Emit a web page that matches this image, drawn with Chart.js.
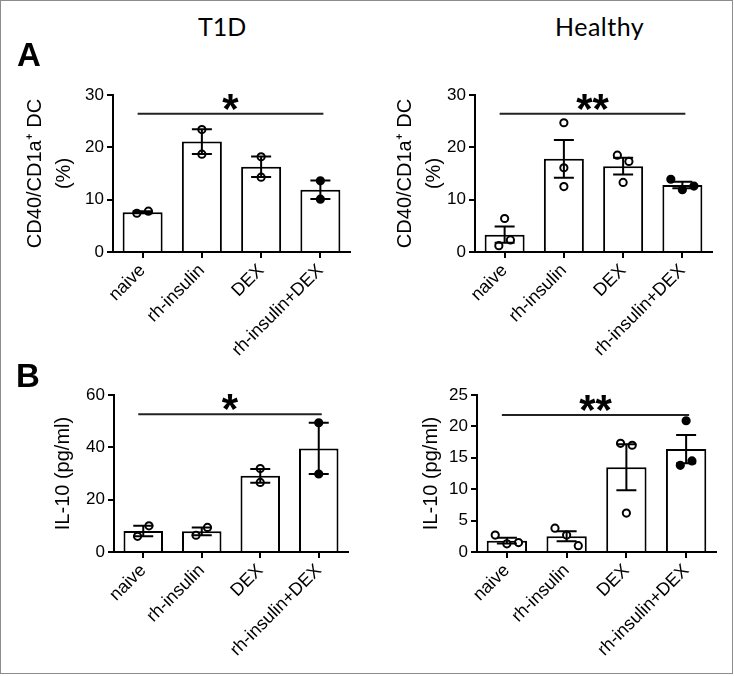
<!DOCTYPE html>
<html>
<head>
<meta charset="utf-8">
<script src="https://cdn.jsdelivr.net/npm/chart.js@4.4.1/dist/chart.umd.min.js"></script>
<style>
  body { margin: 0; background: #fff; }
  #frame { position: absolute; left: 0; top: 0; width: 733px; height: 674px; border: 1px solid #8c8c8c; box-sizing: border-box; }
  canvas { position: absolute; }
  .lbl { position: absolute; color: #000; line-height: 1; white-space: nowrap; }
  .col { font-family: Lato, sans-serif; font-size: 25px; }
  .panel { font-family: "Liberation Sans", Arial, sans-serif; font-weight: bold; font-size: 33px; }
</style>
</head>
<body>
<div id="frame"></div>
<canvas id="aT1d" width="366" height="305" style="left:0;top:60px"></canvas>
<canvas id="aHealthy" width="368" height="305" style="left:366px;top:60px"></canvas>
<canvas id="bT1d" width="366" height="310" style="left:0;top:360px"></canvas>
<canvas id="bHealthy" width="368" height="310" style="left:366px;top:360px"></canvas>
<div class="lbl col" style="left:198px;top:14px">T1D</div>
<div class="lbl col" style="left:555px;top:14px;letter-spacing:0.5px">Healthy</div>
<div class="lbl panel" style="left:17px;top:38px">A</div>
<div class="lbl panel" style="left:16px;top:359px">B</div>
<script>
const categories = ['naive', 'rh-insulin', 'DEX', 'rh-insulin+DEX'];

// A: CD40/CD1a+ DC (%)
const t1dCd40Points = [[7.4, 7.8], [23.4, 18.7], [18.2, 14.3], [13.6, 10.1]];
const t1dCd40Mean = [7.6, 21.1, 16.3, 11.9];
const t1dCd40Sem = [0.2, 2.35, 1.95, 1.75];

const healthyCd40Points = [[6.4, 1.2, 2.3], [24.7, 16.1, 12.5], [18.5, 17.3, 13.3], [13.9, 11.9, 12.6]];
const healthyCd40Mean = [3.3, 17.8, 16.4, 12.8];
const healthyCd40Sem = [1.55, 3.6, 1.6, 0.6];

// B: IL-10 (pg/ml)
const t1dIl10Points = [[6.0, 10.0], [6.4, 9.4], [31.9, 26.6], [49.4, 29.8]];
const t1dIl10Mean = [8.0, 7.9, 29.1, 39.6];
const t1dIl10Sem = [2.0, 1.5, 2.6, 9.8];

const healthyIl10Points = [[2.7, 1.3, 1.5], [3.8, 2.7, 1.0], [17.3, 17.0, 6.2], [20.9, 13.8, 14.5]];
const healthyIl10Mean = [1.8, 2.5, 13.5, 16.4];
const healthyIl10Sem = [0.45, 0.8, 3.65, 2.25];

// y tick labels
const cd40Ticks = [0, 10, 20, 30];
const t1dIl10Ticks = [0, 20, 40, 60];
const healthyIl10Ticks = [0, 5, 10, 15, 20, 25];

// significance bar (naive vs rh-insulin+DEX)
const sigLevels = [26.4, 26.4, 52.6, 21.8];
const sigMarks = ['*', '**', '*', '**'];

const FONT = '"Liberation Sans", Arial, sans-serif';
const PLOT_H = 157;

// spread points that would overlap, like a scatter dot plot
function jitter(vals, thr, step) {
  const idx = vals.map((v, i) => i).sort((a, b) => vals[b] - vals[a]);
  const groups = [];
  let cur = [idx[0]];
  for (let k = 1; k < idx.length; k++) {
    if (vals[cur[cur.length - 1]] - vals[idx[k]] < thr) cur.push(idx[k]);
    else { groups.push(cur); cur = [idx[k]]; }
  }
  groups.push(cur);
  const off = new Array(vals.length).fill(0);
  groups.forEach(g => {
    g.sort((a, b) => a - b);
    g.forEach((i, j) => { off[i] = (j - (g.length - 1) / 2) * step; });
  });
  return off;
}

const errBars = {
  id: 'errBars',
  afterDatasetsDraw(chart) {
    const ctx = chart.ctx;
    const ds = chart.data.datasets[1];
    const meta = chart.getDatasetMeta(1);
    const y = chart.scales.y, x = chart.scales.x;
    ctx.save();
    ctx.strokeStyle = '#000';
    ctx.lineWidth = 2;
    meta.data.forEach((bar, i) => {
      const top = y.getPixelForValue(ds.data[i] + ds.sem[i]);
      const bot = y.getPixelForValue(ds.data[i] - ds.sem[i]);
      ctx.beginPath();
      ctx.moveTo(bar.x, top); ctx.lineTo(bar.x, bot);
      ctx.moveTo(bar.x - 10, top); ctx.lineTo(bar.x + 10, top);
      ctx.moveTo(bar.x - 10, bot); ctx.lineTo(bar.x + 10, bot);
      ctx.stroke();
    });
    // significance line and stars
    const ly = y.getPixelForValue(ds.sig);
    const x0 = x.getPixelForValue(0) - 5, x1 = x.getPixelForValue(3) + 3;
    ctx.beginPath();
    ctx.moveTo(x0, ly); ctx.lineTo(x1, ly);
    ctx.strokeStyle = '#222';
    ctx.stroke();
    ctx.font = 'bold 42px ' + FONT;
    ctx.fillStyle = '#000';
    ctx.textAlign = 'center';
    ctx.textBaseline = 'alphabetic';
    const m = ctx.measureText(ds.mark);
    ctx.fillText(ds.mark, (x0 + x1) / 2, ly - 4 - m.actualBoundingBoxDescent);
    ctx.restore();
  }
};

function makePanel(id, pts, mean, sem, ticks, sig, mark, yTitle, box) {
  const max = ticks[ticks.length - 1];
  const scatter = [];
  pts.forEach((vals, c) => {
    const off = jitter(vals, 11 * max / PLOT_H, 0.195);
    vals.forEach((v, k) => scatter.push({ x: c + off[k], y: v, c: c }));
  });
  new Chart(document.getElementById(id), {
    type: 'bar',
    data: {
      labels: categories,
      datasets: [
        {
          type: 'scatter',
          data: scatter,
          xAxisID: 'xp',
          yAxisID: 'y',
          order: 1,
          pointRadius: 3.6,
          pointHoverRadius: 3.6,
          pointBorderWidth: 2,
          pointBorderColor: '#000',
          pointBackgroundColor: c => (c.raw && c.raw.c === 3 ? '#000' : '#fff')
        },
        {
          type: 'bar',
          data: mean,
          sem: sem,
          sig: sig,
          mark: mark,
          xAxisID: 'x',
          yAxisID: 'y',
          order: 2,
          grouped: false,
          backgroundColor: '#fff',
          borderColor: '#000',
          borderWidth: 2,
          borderSkipped: 'start',
          barPercentage: 0.675,
          categoryPercentage: 1
        }
      ]
    },
    options: {
      responsive: false,
      animation: false,
      events: [],
      layout: { padding: { left: 0, top: box.top, right: box.right, bottom: 0 } },
      plugins: { legend: { display: false }, tooltip: { enabled: false } },
      scales: {
        x: {
          type: 'category',
          offset: true,
          grid: { display: true, drawOnChartArea: false, offset: false, tickLength: 6, color: '#000', lineWidth: 2 },
          border: { display: true, color: '#000', width: 2 },
          ticks: { autoSkip: false, minRotation: 45, maxRotation: 45, padding: 2, color: '#000', font: { family: FONT, size: 18 } },
          afterFit: s => { s.height = box.xh; }
        },
        xp: { type: 'linear', display: false, offset: false, min: -0.5, max: 3.5, grid: { offset: false } },
        y: {
          min: ticks[0],
          max: max,
          ticks: { stepSize: ticks[1] - ticks[0], padding: 3, color: '#000', font: { family: FONT, size: 17 } },
          grid: { display: true, drawOnChartArea: false, tickLength: 6, color: '#000', lineWidth: 2 },
          border: { display: true, color: '#000', width: 2 },
          title: {
            display: true,
            text: yTitle,
            color: '#000',
            font: { family: FONT, size: 20, lineHeight: 1.45 },
            padding: { top: box.tp, bottom: 0 }
          },
          afterFit: s => { s.width = box.yw; }
        }
      }
    },
    plugins: [errBars]
  });
}

const cd40Title = ['CD40/CD1a\u207A DC', '(%)'];
const il10Title = 'IL-10 (pg/ml)';

makePanel('aT1d', t1dCd40Points, t1dCd40Mean, t1dCd40Sem, cd40Ticks, sigLevels[0], sigMarks[0], cd40Title,
  { top: 35, right: 16, xh: 113, yw: 113, tp: 20.5 });
makePanel('aHealthy', healthyCd40Points, healthyCd40Mean, healthyCd40Sem, cd40Ticks, sigLevels[1], sigMarks[1], cd40Title,
  { top: 35, right: 22, xh: 113, yw: 109, tp: 24.5 });
makePanel('bT1d', t1dIl10Points, t1dIl10Mean, t1dIl10Sem, t1dIl10Ticks, sigLevels[2], sigMarks[2], il10Title,
  { top: 35, right: 18, xh: 118, yw: 114, tp: 48.5 });
makePanel('bHealthy', healthyIl10Points, healthyIl10Mean, healthyIl10Sem, healthyIl10Ticks, sigLevels[3], sigMarks[3], il10Title,
  { top: 35, right: 18, xh: 118, yw: 111, tp: 50.5 });
</script>
</body>
</html>
